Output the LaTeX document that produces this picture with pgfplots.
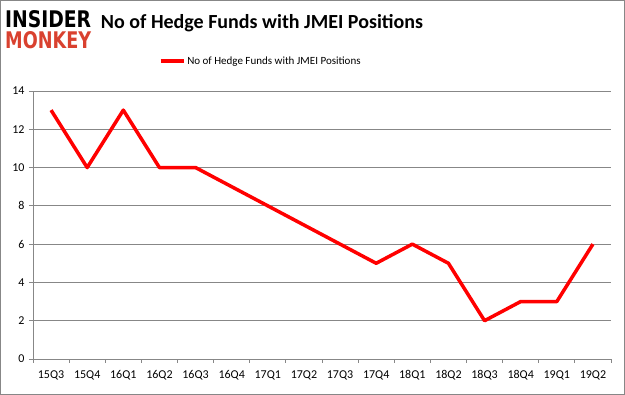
\documentclass[border=0pt]{standalone}
\usepackage{pgfplots}
\pgfplotsset{compat=1.18}
\usepackage{fontspec}
\setmainfont{Carlito}
\newfontfamily\logofont{DejaVu Sans}
\definecolor{gridgray}{HTML}{878787}
\definecolor{logored}{HTML}{D9412F}
\begin{document}
\begin{tikzpicture}[x=1pt,y=1pt]
\draw[gridgray,line width=1pt] (0.5,0.5) rectangle (624.5,394.5);
\node[anchor=north west,inner sep=0pt] at (5,385) {\resizebox{86pt}{17pt}{\logofont\bfseries INSIDER}};
\node[anchor=north west,inner sep=0pt] at (5,364) {\resizebox{86pt}{17pt}{\logofont\bfseries\color{logored}MONKEY}};
\node[anchor=center,inner sep=0pt] at (262,372) {\fontsize{20}{24}\selectfont\bfseries No of Hedge Funds with JMEI Positions};
\begin{axis}[
  at={(33pt,36pt)}, anchor=south west,
  scale only axis, width=578pt, height=268pt,
  xmin=-0.5, xmax=15.5, ymin=0, ymax=14,
  xtick={0,...,15},
  xticklabels={15Q3,15Q4,16Q1,16Q2,16Q3,16Q4,17Q1,17Q2,17Q3,17Q4,18Q1,18Q2,18Q3,18Q4,19Q1,19Q2},
  major x tick style={draw=none},
  minor xtick={-0.5,0.5,...,15.5},
  minor x tick style={gridgray, line width=0.8pt},
  minor tick length=4pt,
  ytick={0,2,...,14},
  major tick length=4pt,
  tick align=outside,
  ymajorgrids, grid style={gridgray, line width=0.8pt},
  axis x line*=bottom, axis y line*=left,
  axis line style={gridgray, line width=0.8pt},
  every tick/.style={gridgray, line width=0.8pt},
  y tick style={gridgray},
  tick label style={font=\fontsize{12}{14}\selectfont, text=black},
  /pgf/number format/assume math mode=true,
  xticklabel style={yshift=-4pt},
  yticklabel style={xshift=-1pt},
  legend style={at={(0.394,1.112)}, anchor=center, draw=none, fill=none, font=\fontsize{11}{13}\selectfont, inner sep=1pt},
  legend cell align=left,
  legend image code/.code={\draw[#1, line width=3.5pt] (0pt,0pt) -- (23pt,0pt);},
  clip=false,
]
\addplot[red, line width=3.5pt, line join=round] coordinates {
(0,13) (1,10) (2,13) (3,10) (4,10) (5,9) (6,8) (7,7) (8,6) (9,5) (10,6) (11,5) (12,2) (13,3) (14,3) (15,6)};
\addlegendentry{No of Hedge Funds with JMEI Positions}
\end{axis}
\end{tikzpicture}
\end{document}
